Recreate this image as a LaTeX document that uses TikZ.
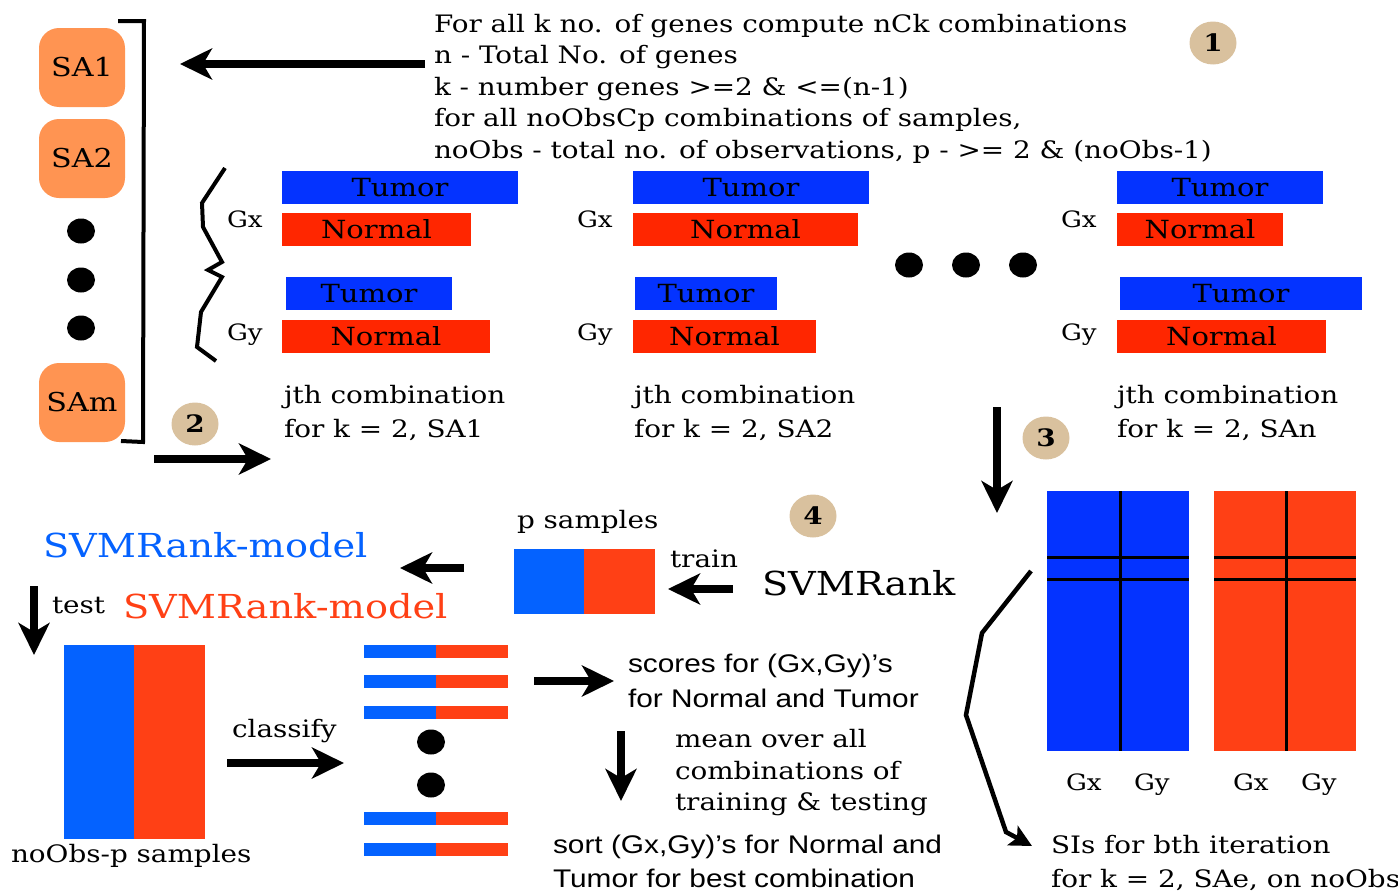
\documentclass[tikz,border=0pt]{standalone}
\usepackage{fontspec}
\setmainfont{DejaVu Serif}[FakeStretch=1.16]
\newfontfamily\helv{Liberation Sans}[FakeStretch=1.17]
\usetikzlibrary{arrows.meta,shapes.geometric}

\definecolor{saorange}{HTML}{FF9452}
\definecolor{tblue}{HTML}{0433FF}
\definecolor{nred}{HTML}{FF2600}
\definecolor{mblue}{HTML}{0462FF}
\definecolor{mred}{HTML}{FF4015}
\definecolor{badgetan}{HTML}{D9C19E}

\newcommand\fsz[2]{\fontsize{#1}{#2}\selectfont}

\begin{document}
\begin{tikzpicture}[x=1pt,y=-1pt,
  every node/.style={inner sep=0pt,outer sep=0pt},
  txt/.style={anchor=base west,font=\fsz{24}{31.5}},
  para/.style={anchor=north west,align=left,font=\fsz{24}{31.5}},
  cappara/.style={anchor=north west,align=left,font=\fsz{24}{34}},
  sanspara/.style={anchor=north west,align=left,font=\helv\fsz{25.5}{34.5}},
  glabel/.style={anchor=base west,font=\fsz{22.5}{22.5}},
  sabox/.style={fill=saorange,rounded corners=20pt,minimum width=86pt,minimum height=79pt,font=\fsz{26}{26}},
  badge/.style={ellipse,fill=badgetan,minimum width=47pt,minimum height=43pt,font=\bfseries\fsz{24}{24}},
  bigdot/.style={ellipse,fill=black,minimum width=28pt,minimum height=25pt},
  tbar/.style={anchor=north west,fill=tblue,minimum height=33pt,font=\fsz{25}{25}},
  nbar/.style={anchor=north west,fill=nred,minimum height=33pt,font=\fsz{25}{25}},
  fatarrow/.style={line width=7.5pt,-{Stealth[length=32pt,width=31pt,inset=9pt]}},
  thinline/.style={line width=4pt,line join=miter},
  gridline/.style={line width=3pt},
]
\useasboundingbox (0,0) rectangle (1398,894);

% ---------- sample sets ----------
\node[sabox] (sa1) at (82,67.5) {SA1};
\node[sabox] (sa2) at (82,158.5) {SA2};
\node[bigdot] (sd1) at (81,231) {};
\node[bigdot] (sd2) at (81,280) {};
\node[bigdot] (sd3) at (81,328) {};
\node[sabox] (sam) at (82,402.5) {SAm};
\coordinate (brA) at (118,21);
\coordinate (brB) at (144,21);
\coordinate (brC) at (143,442);
\coordinate (brD) at (121,441);
\draw[thinline] (brA) -- (brB) -- (brC) -- (brD);

% ---------- step 1 description ----------
\node[para] (desc) at (434,10) {\strut For all k no. of genes compute nCk combinations\\
n - Total No. of genes\\
k - number genes >=2 \& <=(n-1)\\
for all noObsCp combinations of samples,\\
noObs - total no. of observations, p - >= 2 \& (noObs-1)};
\node[badge] (b1) at (1213,43) {1};
\coordinate (a1s) at (425,64);
\coordinate (a1e) at (180,64);
\draw[fatarrow] (a1s) -- (a1e);

% ---------- gene pair brace ----------
\draw[thinline] (225,168) -- (202,203) -- (203,227) -- (222,262) -- (208,270)
  -- (222,277) -- (201,312) -- (197,347) -- (216,361);

% ---------- combination 1 ----------
\node[glabel] (g1x) at (227,227) {Gx};
\node[glabel] (g1y) at (227,340) {Gy};
\node[tbar,minimum width=236pt] (g1t1) at (282,171) {Tumor};
\node[nbar,minimum width=189pt] (g1n1) at (282,213) {Normal};
\node[tbar,minimum width=166pt] (g1t2) at (286,277) {Tumor};
\node[nbar,minimum width=208pt] (g1n2) at (282,320) {Normal};
\node[cappara] (c1) at (284,379.2) {\strut jth combination\\for k = 2, SA1};

% ---------- combination 2 ----------
\node[glabel] (g2x) at (577,227) {Gx};
\node[glabel] (g2y) at (577,340) {Gy};
\node[tbar,minimum width=236pt] (g2t1) at (633,171) {Tumor};
\node[nbar,minimum width=225pt] (g2n1) at (633,213) {Normal};
\node[tbar,minimum width=142pt] (g2t2) at (635,277) {Tumor};
\node[nbar,minimum width=183pt] (g2n2) at (633,320) {Normal};
\node[cappara] (c2) at (634,379.2) {\strut jth combination\\for k = 2, SA2};

% ---------- dots between ----------
\node[bigdot] (md1) at (909,265) {};
\node[bigdot] (md2) at (966,265) {};
\node[bigdot] (md3) at (1023,265) {};

% ---------- combination n ----------
\node[glabel] (g3x) at (1061,227) {Gx};
\node[glabel] (g3y) at (1061,340) {Gy};
\node[tbar,minimum width=206pt] (g3t1) at (1117,171) {Tumor};
\node[nbar,minimum width=166pt] (g3n1) at (1117,213) {Normal};
\node[tbar,minimum width=242pt] (g3t2) at (1120,277) {Tumor};
\node[nbar,minimum width=209pt] (g3n2) at (1117,320) {Normal};
\node[cappara] (c3) at (1117,379.2) {\strut jth combination\\for k = 2, SAn};

% ---------- step 2 ----------
\node[badge] (b2) at (195,424) {2};
\coordinate (a2s) at (154,459);
\coordinate (a2e) at (271,459);
\draw[fatarrow] (a2s) -- (a2e);

% ---------- step 3 ----------
\node[badge] (b3) at (1046,438) {3};
\coordinate (a3s) at (997,407);
\coordinate (a3e) at (997,513);
\draw[fatarrow] (a3s) -- (a3e);

% ---------- SI matrices ----------
\node[anchor=north west,fill=tblue,minimum width=142pt,minimum height=260pt] (mB) at (1047,491) {};
\node[anchor=north west,fill=mred,minimum width=142pt,minimum height=260pt] (mR) at (1214,491) {};
\draw[gridline] (1120,491) -- (1120,751);
\draw[gridline] (1047,557) -- (1189,557);
\draw[gridline] (1047,579) -- (1189,579);
\draw[gridline] (1286,491) -- (1286,751);
\draw[gridline] (1214,557) -- (1356,557);
\draw[gridline] (1214,579) -- (1356,579);
\node[glabel] (mBx) at (1066,790) {Gx};
\node[glabel] (mBy) at (1134,790) {Gy};
\node[glabel] (mRx) at (1233,790) {Gx};
\node[glabel] (mRy) at (1301,790) {Gy};
\coordinate (p0) at (1031,571);
\coordinate (p1) at (982,633);
\coordinate (p2) at (966,715);
\coordinate (p3) at (1006,832);
\coordinate (p4) at (1032,846);
\draw[thinline,line width=4.5pt,-{Stealth[length=22pt,width=22pt,inset=5pt]}]
  (p0) -- (p1) -- (p2) -- (p3) -- (p4);
\node[cappara] (si) at (1051,829.2) {\strut SIs for bth iteration\\for k = 2, SAe, on noObs};

% ---------- step 4: training ----------
\node[badge] (b4) at (813,516) {4};
\node[txt] (psam) at (517,528) {p samples};
\node[anchor=north west,fill=mblue,minimum width=70pt,minimum height=65pt] (pB) at (514,549) {};
\node[anchor=north west,fill=mred,minimum width=71pt,minimum height=65pt] (pR) at (584,549) {};
\node[txt] (train) at (670,567) {train};
\node[anchor=base west,font=\fsz{33}{33}] (svm) at (762,595) {SVMRank};
\coordinate (trs) at (733,589);
\coordinate (tre) at (668,589);
\draw[fatarrow] (trs) -- (tre);
\coordinate (mds) at (464,568);
\coordinate (mde) at (400,568);
\draw[fatarrow] (mds) -- (mde);
\node[anchor=base west,font=\fsz{33}{33},text=mblue] (modB) at (43,557) {SVMRank-model};
\node[anchor=base west,font=\fsz{33}{33},text=mred] (modR) at (123,618) {SVMRank-model};
\node[txt] (test) at (52,613) {test};
\coordinate (tss) at (34,586);
\coordinate (tse) at (34,655);
\draw[fatarrow] (tss) -- (tse);

% ---------- testing ----------
\node[anchor=north west,fill=mblue,minimum width=70pt,minimum height=194pt] (tB) at (64,645) {};
\node[anchor=north west,fill=mred,minimum width=71pt,minimum height=194pt] (tR) at (134,645) {};
\node[txt] (nsam) at (11,862) {noObs-p samples};
\node[txt] (cls) at (232,737) {classify};
\coordinate (cls1) at (227,763);
\coordinate (cls2) at (344,763);
\draw[fatarrow] (cls1) -- (cls2);

\foreach \yy/\nm in {645/s1,675/s2,706/s3,812/s4,843/s5}{
  \node[anchor=north west,fill=mblue,minimum width=72pt,minimum height=13pt] (\nm b) at (364,\yy) {};
  \node[anchor=north west,fill=mred,minimum width=72pt,minimum height=13pt] (\nm r) at (436,\yy) {};
}
\node[bigdot] (sd4) at (431,742) {};
\node[bigdot] (sd5) at (431,785) {};

% ---------- scoring ----------
\coordinate (scs) at (534,681);
\coordinate (sce) at (614,681);
\draw[fatarrow] (scs) -- (sce);
\node[sanspara] (scores) at (628,648.8) {\strut scores for (Gx,Gy)’s\\for Normal and Tumor};
\coordinate (mns) at (621,731);
\coordinate (mne) at (621,801);
\draw[fatarrow] (mns) -- (mne);
\node[para] (mean) at (675,725.9) {\strut mean over all\\combinations of\\training \& testing};
\node[sanspara] (sort) at (553,828.9) {\strut sort (Gx,Gy)’s for Normal and\\Tumor for best combination};
\end{tikzpicture}
\end{document}
